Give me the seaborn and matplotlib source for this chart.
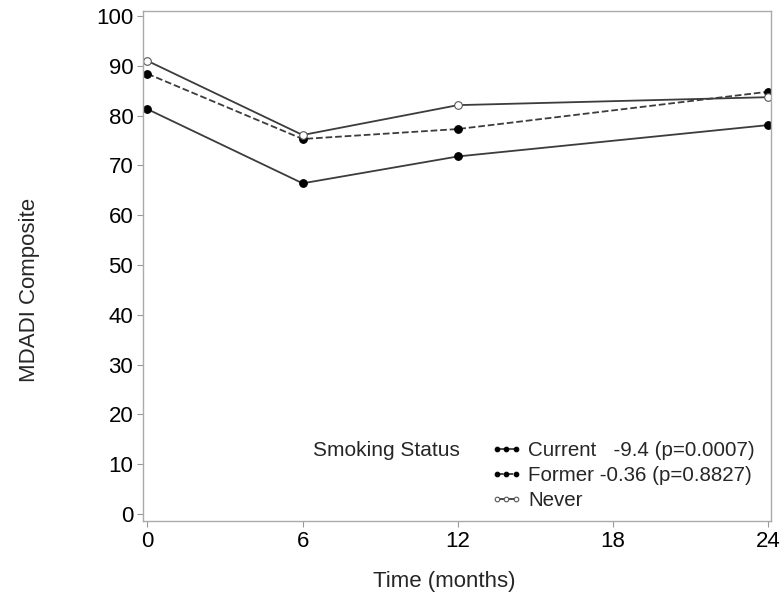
import matplotlib
matplotlib.use("Agg")
import matplotlib.pyplot as plt
import seaborn as sns
import pandas as pd

months = [0, 6, 12, 24]
current = [81.3, 66.4, 71.8, 78.1]
former = [88.4, 75.3, 77.3, 84.8]
never = [91.0, 76.1, 82.1, 83.7]

labels = ["Current   -9.4 (p=0.0007)", "Former -0.36 (p=0.8827)", "Never"]
x_ticks = [0, 6, 12, 18, 24]
y_ticks = list(range(0, 101, 10))

sns.set_style("white")
plt.rcParams['font.family'] = ['Liberation Sans', 'DejaVu Sans']

fig = plt.figure(figsize=(7.83, 5.95), dpi=100)
ax = fig.add_axes([0.1826, 0.1244, 0.9847 - 0.1826, 0.9815 - 0.1244])

styles = [
    (current, labels[0], "-", "black"),
    (former, labels[1], "--", "black"),
    (never, labels[2], "-", "white"),
]
for vals, lab, ls, face in styles:
    df = pd.DataFrame({"month": months, "score": vals})
    sns.lineplot(data=df, x="month", y="score", ax=ax, label=lab,
                 color="#3c3c3c", linestyle=ls, linewidth=1.3,
                 marker="o", markersize=5.5, markerfacecolor=face,
                 markeredgecolor="black" if face == "black" else "#555555",
                 markeredgewidth=0.8)

ax.set_xlim(-0.17, 24.1)
ax.set_ylim(-1.4, 101.0)
ax.set_xticks(x_ticks)
ax.set_yticks(y_ticks)
ax.tick_params(axis="both", direction="out", length=4, width=0.8,
               color="#999999", labelsize=16, labelcolor="black", pad=3)
ax.tick_params(axis="both", bottom=True, left=True)
for s in ax.spines.values():
    s.set_color("#aaaaaa")
    s.set_linewidth(1)

ax.set_xlabel("Time (months)", fontsize=16, labelpad=14)
ax.set_ylabel("MDADI Composite", fontsize=16, labelpad=40)
ax.xaxis.label.set_x(0.479)
ax.yaxis.label.set_y(0.453)

leg = ax.legend(loc="lower right", frameon=False, fontsize=14.8, numpoints=3,
                markerscale=0.6, handlelength=1.55, handletextpad=0.3,
                labelspacing=0.28, borderpad=0, borderaxespad=0,
                bbox_to_anchor=(0.9745, 0.022))
ax.text(0.270, 0.139, "Smoking Status", transform=ax.transAxes,
        fontsize=15, va="center", ha="left")

fig.savefig("out.png", dpi=100)
